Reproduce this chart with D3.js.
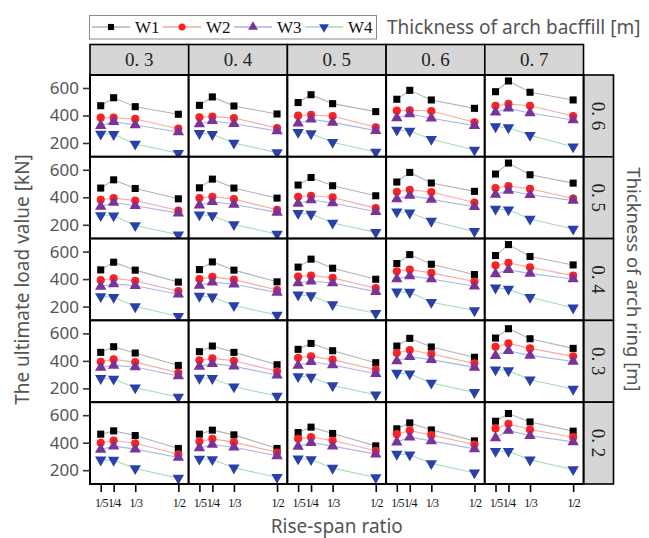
<!DOCTYPE html>
<html>
<head>
<meta charset="utf-8">
<script src="https://cdn.jsdelivr.net/npm/d3@7/dist/d3.min.js"></script>
<style>
  html, body { margin: 0; padding: 0; background: #fff; }
  svg { display: block; }
</style>
</head>
<body>
<svg id="chart" width="649" height="538"></svg>
<script>
// Facet grid: arch backfill thickness across, arch ring thickness down.
const backfill = ["0. 3", "0. 4", "0. 5", "0. 6", "0. 7"];
const ring = ["0. 6", "0. 5", "0. 4", "0. 3", "0. 2"];
const ratios = [1 / 5, 1 / 4, 1 / 3, 1 / 2];
const ratioLabels = ["1/5", "1/4", "1/3", "1/2"];
const yTicks = [200, 400, 600];
const seriesNames = ["W1", "W2", "W3", "W4"];

// Ultimate load [kN], indexed [ring row][backfill column][rise-span ratio]
const W1 = [
  [[471, 529, 464, 409], [474, 535, 469, 411], [494, 551, 486, 428], [518, 583, 513, 452], [573, 651, 569, 513]],
  [[467, 527, 464, 389], [469, 532, 467, 394], [489, 544, 484, 411], [511, 581, 504, 443], [569, 649, 564, 503]],
  [[467, 523, 465, 378], [469, 525, 465, 380], [487, 545, 479, 399], [513, 578, 508, 433], [571, 651, 564, 503]],
  [[462, 503, 457, 367], [467, 508, 462, 372], [484, 527, 474, 387], [508, 564, 501, 426], [566, 634, 561, 491]],
  [[462, 486, 452, 358], [462, 491, 457, 358], [474, 513, 467, 377], [501, 544, 493, 413], [556, 612, 551, 484]]
];
const W2 = [
  [[384, 384, 375, 304], [387, 392, 382, 309], [399, 404, 396, 314], [435, 438, 433, 351], [471, 484, 471, 396]],
  [[382, 394, 377, 304], [394, 404, 387, 309], [404, 411, 399, 321], [440, 455, 438, 362], [467, 482, 462, 391]],
  [[392, 406, 387, 312], [401, 416, 396, 321], [418, 426, 409, 334], [457, 469, 445, 382], [501, 518, 486, 425]],
  [[394, 411, 391, 314], [404, 418, 401, 324], [423, 433, 409, 336], [457, 479, 450, 382], [503, 527, 491, 433]],
  [[399, 416, 396, 316], [409, 428, 404, 329], [428, 440, 416, 341], [462, 489, 455, 387], [503, 537, 496, 440]]
];
const W3 = [
  [[326, 355, 331, 280], [338, 362, 340, 287], [343, 372, 350, 290], [382, 411, 380, 326], [423, 452, 418, 367]],
  [[333, 362, 338, 285], [343, 367, 348, 290], [355, 380, 358, 295], [387, 414, 385, 331], [420, 449, 418, 376]],
  [[346, 365, 351, 290], [353, 378, 363, 302], [372, 385, 372, 309], [401, 423, 401, 348], [438, 469, 440, 401]],
  [[353, 367, 355, 290], [360, 380, 362, 295], [367, 394, 370, 307], [399, 430, 409, 353], [438, 474, 440, 396]],
  [[351, 375, 353, 292], [362, 387, 367, 304], [372, 399, 375, 317], [404, 440, 413, 355], [435, 489, 450, 406]]
];
const W4 = [
  [[266, 263, 193, 125], [270, 263, 200, 130], [278, 268, 205, 135], [295, 287, 227, 149], [319, 312, 256, 173]],
  [[268, 266, 195, 127], [273, 268, 202, 132], [283, 278, 213, 145], [295, 287, 227, 152], [315, 309, 242, 169]],
  [[273, 268, 200, 130], [276, 271, 208, 138], [285, 280, 215, 152], [307, 305, 232, 171], [336, 327, 268, 191]],
  [[273, 268, 205, 137], [275, 273, 212, 144], [287, 282, 220, 154], [311, 307, 239, 171], [336, 329, 263, 195]],
  [[275, 273, 212, 142], [282, 278, 217, 149], [283, 278, 215, 147], [317, 312, 249, 181], [338, 338, 275, 205]]
];
const seriesData = [W1, W2, W3, W4];

// Series styling
const lineColors = ["#b4b4b4", "#f6aaa0", "#a9b6e6", "#a6dcb6"];
const markColors = ["#000000", "#ff2020", "#7a3396", "#2840a8"];
const symbolTypes = [d3.symbolSquare, d3.symbolCircle, d3.symbolTriangle, d3.symbolTriangle];
const symbolSizes = [50, 52, 56, 56];
const symbolRot = [0, 0, 0, 180];

const SANS = "'Noto Sans', 'Open Sans', sans-serif";
const SERIF = "'Liberation Serif', 'DejaVu Serif', serif";

// Layout
const gridX0 = 90, gridY0 = 75;
const colW = 98.7, rowH = 81.8;
const stripTop = 44.5, stripRightW = 30;

const svg = d3.select("#chart");

const x = d3.scaleLinear().domain([0.1586, 0.540]).range([0, colW]);
const y = d3.scaleLinear().domain([99.5, 694.5]).range([rowH, 0]);

const line = d3.line().x((d, i) => x(ratios[i])).y(d => y(d));

// Column strips
backfill.forEach((lab, c) => {
  const g = svg.append("g").attr("transform", `translate(${gridX0 + c * colW},${stripTop})`);
  g.append("rect").attr("width", colW).attr("height", gridY0 - stripTop)
    .attr("fill", "#d6d6d6").attr("stroke", "#000").attr("stroke-width", 1.6);
  g.append("text").attr("x", colW / 2).attr("y", (gridY0 - stripTop) / 2 + 6.5)
    .attr("text-anchor", "middle").attr("font-family", SERIF).attr("font-size", 19)
    .attr("fill", "#222").text(lab);
});

// Row strips on the right
ring.forEach((lab, r) => {
  const g = svg.append("g").attr("transform", `translate(${gridX0 + 5 * colW},${gridY0 + r * rowH})`);
  g.append("rect").attr("width", stripRightW).attr("height", rowH)
    .attr("fill", "#d6d6d6").attr("stroke", "#000").attr("stroke-width", 1.6);
  g.append("text")
    .attr("transform", `translate(${stripRightW / 2 - 6.5},${rowH / 2}) rotate(90)`)
    .attr("text-anchor", "middle").attr("font-family", SERIF).attr("font-size", 19)
    .attr("fill", "#222").text(lab);
});

// Panels
ring.forEach((rl, r) => {
  backfill.forEach((cl, c) => {
    const g = svg.append("g")
      .attr("transform", `translate(${gridX0 + c * colW},${gridY0 + r * rowH})`);
    g.append("rect").attr("width", colW).attr("height", rowH)
      .attr("fill", "#fff");

    seriesData.forEach((s, k) => {
      g.append("path").datum(s[r][c]).attr("d", line)
        .attr("fill", "none").attr("stroke", lineColors[k]).attr("stroke-width", 1.1);
    });
    seriesData.forEach((s, k) => {
      g.selectAll(null).data(s[r][c]).join("path")
        .attr("transform", (d, i) => `translate(${x(ratios[i])},${y(d)}) rotate(${symbolRot[k]})`)
        .attr("d", d3.symbol().type(symbolTypes[k]).size(symbolSizes[k]))
        .attr("fill", markColors[k]);
    });

    g.append("rect").attr("width", colW).attr("height", rowH)
      .attr("fill", "none").attr("stroke", "#000").attr("stroke-width", 2);

    // Left axis on the first column
    if (c === 0) {
      const ax = g.append("g").call(d3.axisLeft(y).tickValues(yTicks).tickSize(7).tickPadding(4));
      ax.select(".domain").remove();
      ax.selectAll(".tick line").attr("stroke", "#333").attr("stroke-width", 1.6);
      ax.selectAll(".tick text").attr("font-family", SANS).attr("font-size", 17)
        .attr("fill", "#555");
    }
    // Bottom axis on the last row
    if (r === ring.length - 1) {
      const ax = g.append("g").attr("transform", `translate(0,${rowH})`)
        .call(d3.axisBottom(x).tickValues(ratios).tickSize(8).tickPadding(6)
          .tickFormat((d, i) => ratioLabels[i]));
      ax.select(".domain").remove();
      ax.selectAll(".tick line").attr("stroke", "#000").attr("stroke-width", 1.6);
      ax.selectAll(".tick text").attr("font-family", SERIF).attr("font-size", 12)
        .attr("letter-spacing", -1).attr("fill", "#111");
    }
  });
});

// Legend
const legend = svg.append("g");
legend.append("rect").attr("x", 89.5).attr("y", 15.5).attr("width", 287).attr("height", 23.5)
  .attr("fill", "#fff").attr("stroke", "#888").attr("stroke-width", 1);
seriesNames.forEach((name, k) => {
  const lx = 92 + k * 71;
  const item = legend.append("g").attr("transform", `translate(${lx},27)`);
  item.append("line").attr("x1", 0).attr("x2", 38).attr("stroke", lineColors[k]).attr("stroke-width", 1.4);
  item.append("path")
    .attr("transform", `translate(19,0) rotate(${symbolRot[k]})`)
    .attr("d", d3.symbol().type(symbolTypes[k]).size(symbolSizes[k] * 0.75))
    .attr("fill", markColors[k]);
  item.append("text").attr("x", 43).attr("y", 6).attr("font-family", SERIF)
    .attr("font-size", 17).attr("fill", "#111").text(name);
});
svg.append("text").attr("x", 387).attr("y", 34).attr("font-family", SANS)
  .attr("font-size", 19).attr("fill", "#555").text("Thickness of arch bacffill [m]");

// Axis titles
svg.append("text")
  .attr("transform", `translate(29,${gridY0 + 2.5 * rowH}) rotate(-90)`)
  .attr("text-anchor", "middle").attr("font-family", SANS).attr("font-size", 19)
  .attr("fill", "#555").text("The ultimate load value [kN]");
svg.append("text")
  .attr("transform", `translate(627,${gridY0 + 2.5 * rowH}) rotate(90)`)
  .attr("text-anchor", "middle").attr("font-family", SANS).attr("font-size", 18.5)
  .attr("fill", "#555").text("Thickness of arch ring [m]");
svg.append("text")
  .attr("x", gridX0 + 2.5 * colW).attr("y", 532.5)
  .attr("text-anchor", "middle").attr("font-family", SANS).attr("font-size", 19)
  .attr("fill", "#555").text("Rise-span ratio");
</script>
</body>
</html>
